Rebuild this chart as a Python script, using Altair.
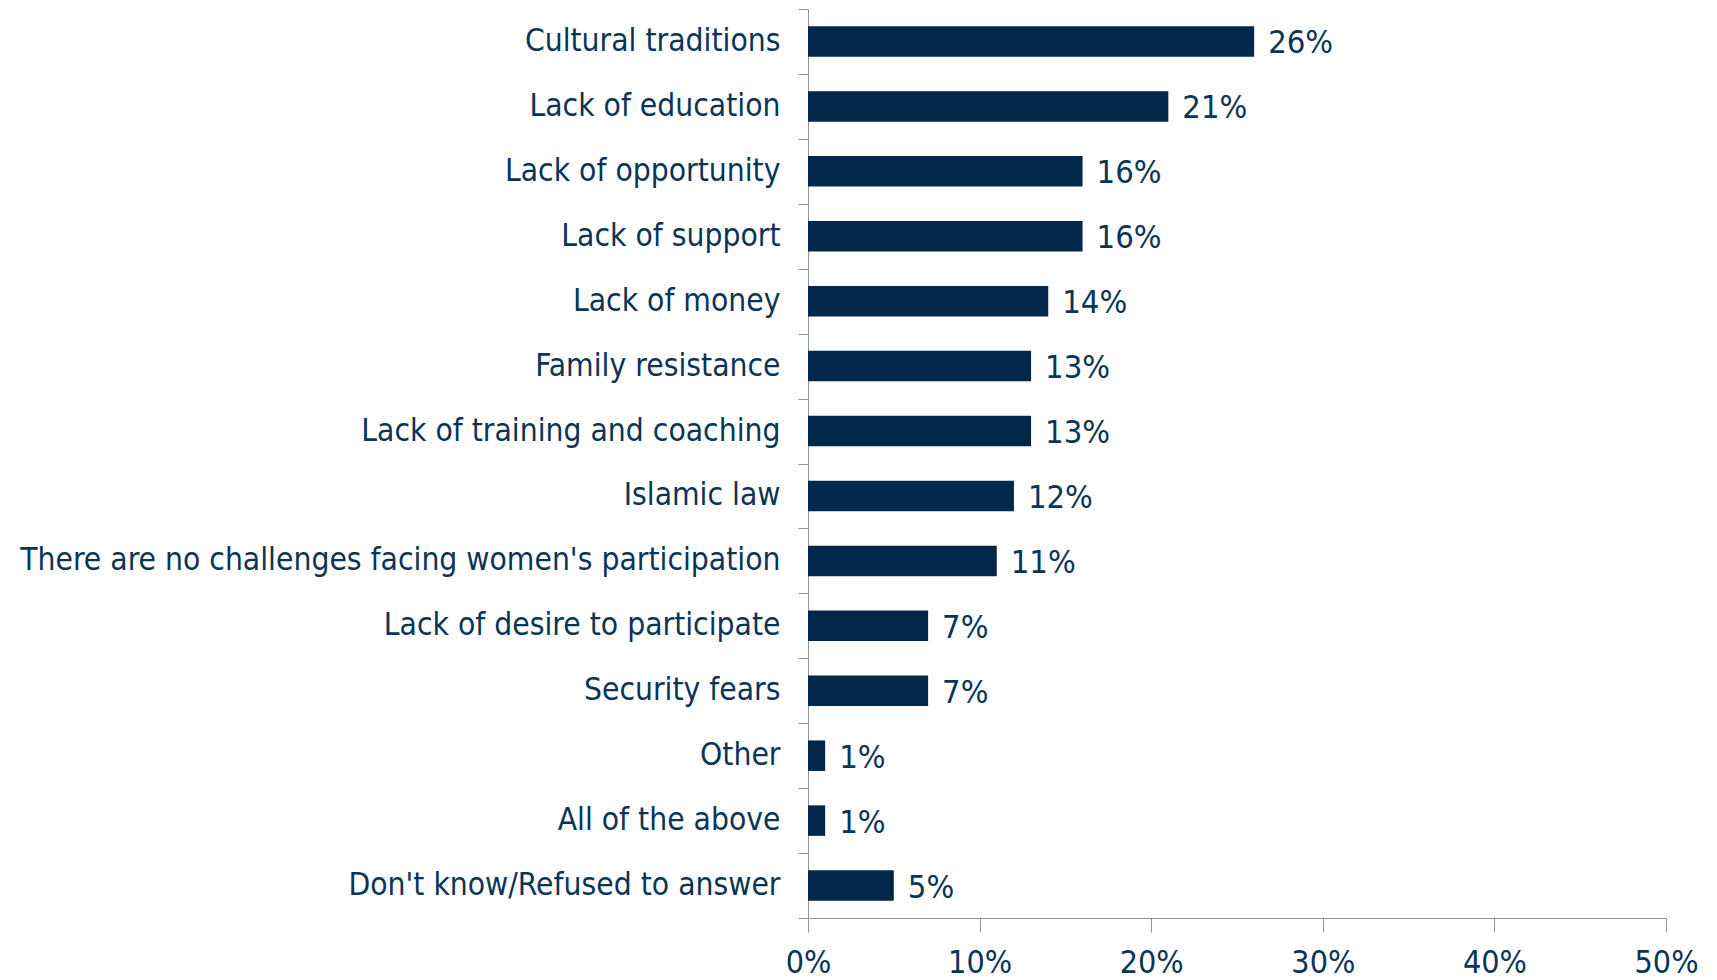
import altair as alt
import pandas as pd

categories = [
    "Cultural traditions",
    "Lack of education",
    "Lack of opportunity",
    "Lack of support",
    "Lack of money",
    "Family resistance",
    "Lack of training and coaching",
    "Islamic law",
    "There are no challenges facing women's participation",
    "Lack of desire to participate",
    "Security fears",
    "Other",
    "All of the above",
    "Don't know/Refused to answer",
]
values = [26, 21, 16, 16, 14, 13, 13, 12, 11, 7, 7, 1, 1, 5]
labels = [f"{v}%" for v in values]

df = pd.DataFrame({"category": categories, "value": [v / 100 for v in values], "label": labels})

BAR = "#01284a"
TEXT = "#0a3556"
AXIS = "#8c959e"
FONT = "DejaVu Sans Condensed, DejaVu Sans, sans-serif"

base = alt.Chart(df)

bars = base.mark_bar(color=BAR, height=alt.RelativeBandSize(0.47)).encode(
    x=alt.X(
        "value:Q",
        scale=alt.Scale(domain=[0, 0.5], nice=False),
        axis=alt.Axis(
            values=[0, 0.1, 0.2, 0.3, 0.4, 0.5],
            format=".0%",
            title=None,
            grid=False,
            domainColor=AXIS,
            tickColor=AXIS,
            tickSize=14,
            labelPadding=15,
            labelFont=FONT,
            labelFontSize=32,
            labelColor=TEXT,
            labelFlush=False,
            labelBaseline="top",
        ),
    ),
    y=alt.Y(
        "category:N",
        sort=categories,
        scale=alt.Scale(paddingInner=0, paddingOuter=0),
        axis=alt.Axis(
            title=None,
            domainColor=AXIS,
            tickColor=AXIS,
            tickSize=10,
            tickBand="extent",
            labelPadding=18,
            labelFont=FONT,
            labelFontSize=31.5,
            labelColor=TEXT,
            labelLimit=900,
        ),
    ),
)

text = base.mark_text(
    align="left", baseline="middle", dx=14, dy=2, font=FONT, fontSize=32.5, color=TEXT
).encode(
    x="value:Q",
    y=alt.Y("category:N", sort=categories),
    text="label:N",
)

chart = (
    (bars + text)
    .properties(
        width=858,
        height=909,
        background="white",
        autosize=alt.AutoSizeParams(type="none"),
        padding={"left": 800, "top": 1, "right": 40, "bottom": 62},
    )
    .configure_view(stroke="transparent", strokeWidth=0)
)

chart.save("out.html", embed_options={"renderer": "svg", "actions": False})
